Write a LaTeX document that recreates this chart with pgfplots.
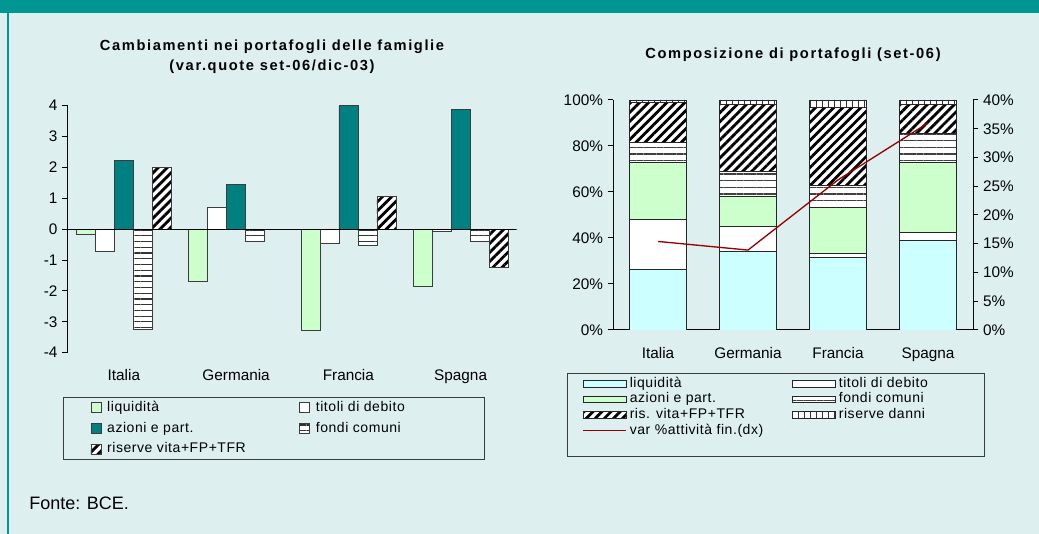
\documentclass[border=0pt]{standalone}
\usepackage{fontspec}
\setmainfont{Liberation Sans}
\newfontfamily\titlefont[LetterSpace=11]{Liberation Sans}
\newfontfamily\legfont[LetterSpace=4]{Liberation Sans}
\usepackage{pgfplots}
\usepackage{pgfplotstable}
\pgfplotsset{compat=1.18}
\usetikzlibrary{patterns.meta}
\definecolor{bandteal}{RGB}{0,150,145}
\definecolor{bgpanel}{RGB}{221,239,239}
\definecolor{lgreen}{RGB}{204,255,204}
\definecolor{lcyan}{RGB}{204,255,255}
\definecolor{dteal}{RGB}{0,128,128}
\definecolor{dred}{RGB}{153,0,0}
\definecolor{edge}{RGB}{60,60,60}

\pgfplotstableread{
x liq tit azi fon ris
0 -0.16 -0.72 2.22 -3.24 1.99
1 -1.68 0.72 1.44 -0.39 0.00
2 -3.28 -0.46 4.00 -0.51 1.05
3 -1.85 -0.06 3.88 -0.39 -1.23
}\leftdata
\pgfplotstableread{
x liq tit azi fon ris dan
0 26.4 21.7 24.8 8.7 17.4 1.0
1 34.1 11.1 12.8 11.0 29.1 1.9
2 31.6 1.7 20.0 9.7 33.8 3.2
3 39.1 3.2 30.6 12.6 12.6 1.9
}\rightdata
\pgfplotstableread{
x var
0 15.4
1 13.9
2 26.1
3 36.0
}\linedata

\tikzset{
  diagpat/.style={postaction={pattern={Lines[angle=45,distance=4.8pt,line width=2.1pt]},pattern color=black}},
  hpatL/.style={postaction={pattern={Lines[angle=0,distance=4.3pt,line width=0.9pt]},pattern color=black!80}},
  hpatR/.style={postaction={pattern={Lines[angle=0,distance=5pt,line width=1.1pt]},pattern color=black!75}},
  vpat/.style={postaction={pattern={Lines[angle=90,distance=4.5pt,line width=0.6pt]},pattern color=black!80}},
}
\pgfplotsset{
  ticklab/.style={tick label style={font=\fontsize{11.5}{13}\selectfont}},
  linelegend/.style={legend image code/.code={\draw[##1] (0pt,0pt) -- (32.25pt,0pt); \path (33.5pt,0pt);}},
  sqlegend/.style={legend image code/.code={\draw[##1] (0pt,-3.75pt) rectangle (7.5pt,3.75pt); \path (10pt,0pt);}},
  widelegend/.style={legend image code/.code={\draw[##1] (0pt,-2.6pt) rectangle (32.25pt,2.6pt); \path (33.5pt,0pt);}},
}

\begin{document}
\begin{tikzpicture}
\fill[bgpanel] (0,0) rectangle (779.25pt,400.5pt);
\fill[bandteal] (0,390.75pt) rectangle (779.25pt,400.5pt);
\fill[bandteal] (5.25pt,0) rectangle (6.75pt,390.75pt);

\node[font=\titlefont\bfseries\fontsize{11}{15}\selectfont, align=center] at (204pt,357.75pt)
  {Cambiamenti nei portafogli delle famiglie\\(var.quote set-06/dic-03)};
\node[font=\titlefont\bfseries\fontsize{11}{15}\selectfont] at (594.75pt,359.25pt)
  {Composizione di portafogli (set-06)};
\node[anchor=west, font=\fontsize{13.5}{16}\selectfont, inner sep=0pt] at (21.75pt,23.25pt) {Fonte: BCE.};

% ---------- left chart ----------
\begin{axis}[
  at={(50.8pt,135.98pt)}, anchor=south west, scale only axis,
  width=336.75pt, height=185.25pt,
  xmin=-0.5, xmax=3.5, ymin=-4, ymax=4,
  axis y line*=left, axis x line*=bottom,
  x axis line style={draw=none},
  xtick={0,1,2,3}, xticklabels={Italia,Germania,Francia,Spagna},
  xtick style={draw=none},
  ytick={-4,-3,-2,-1,0,1,2,3,4}, yticklabels={-4,-3,-2,-1,0,1,2,3,4},
  tick align=outside, major tick length=4.2pt,
  y axis line style={line width=0.75pt, black},
  ytick style={line width=0.75pt, black},
  ticklab,
  xticklabel style={yshift=-4.8pt},
  ybar=0pt, bar width=14.25pt,
  legend columns=2, legend cell align=left,
  legend style={at={(-0.0105,-0.179)}, anchor=north west, draw=edge, fill=none, line width=0.75pt,
     inner xsep=20.25pt, inner ysep=0.5pt, row sep=1.1pt,
     nodes={inner sep=2pt, text height=8pt, text depth=2.5pt},
     font=\legfont\fontsize{10.5}{12}\selectfont},
  sqlegend,
]
\addplot[fill=lgreen, draw=edge, line width=0.5pt] table[x=x,y=liq]{\leftdata};
\addlegendentry{\makebox[142pt][l]{liquidità}}
\addplot[fill=white, draw=edge, line width=0.5pt] table[x=x,y=tit]{\leftdata};
\addlegendentry{\makebox[104.5pt][l]{titoli di debito}}
\addplot[fill=dteal, draw=edge, line width=0.5pt] table[x=x,y=azi]{\leftdata};
\addlegendentry{azioni e part.}
\addplot[fill=white, draw=edge, line width=0.5pt, hpatL] table[x=x,y=fon]{\leftdata};
\addlegendentry{fondi comuni}
\addplot[fill=white, draw=edge, line width=0.5pt, diagpat] table[x=x,y=ris]{\leftdata};
\addlegendentry{riserve vita+FP+TFR}
\draw[black, line width=0.75pt] (axis cs:-0.5,0) -- (axis cs:3.5,0);
\end{axis}

% ---------- right chart ----------
\begin{axis}[
  at={(459.75pt,153pt)}, anchor=south west, scale only axis,
  width=270pt, height=172.5pt,
  xmin=-0.5, xmax=3.5, ymin=0, ymax=100,
  axis y line*=left, axis x line*=bottom,
  xtick={0,1,2,3}, xticklabels={Italia,Germania,Francia,Spagna},
  xtick style={draw=none},
  ytick={0,20,40,60,80,100}, yticklabels={0\%,20\%,40\%,60\%,80\%,100\%},
  tick align=outside, major tick length=4pt,
  axis line style={line width=0.75pt, black},
  ytick style={line width=0.75pt, black},
  ticklab,
  xticklabel style={yshift=-5.8pt},
  ybar stacked, bar width=42.75pt,
  legend columns=2, legend cell align=left,
  legend style={at={(-0.128,-0.187)}, anchor=north west, draw=edge, fill=none, line width=0.75pt,
     inner xsep=11.25pt, inner ysep=1.85pt, row sep=0pt,
     nodes={inner sep=1pt, text height=7.5pt, text depth=2.2pt},
     font=\legfont\fontsize{10.5}{12}\selectfont},
  widelegend,
]
\addplot[fill=lcyan, draw=black!85, line width=0.55pt] table[x=x,y=liq]{\rightdata};
\addlegendentry{\makebox[120.75pt][l]{liquidità}}
\addplot[fill=white, draw=black!85, line width=0.55pt] table[x=x,y=tit]{\rightdata};
\addlegendentry{\makebox[96.75pt][l]{titoli di debito}}
\addplot[fill=lgreen, draw=black!85, line width=0.55pt] table[x=x,y=azi]{\rightdata};
\addlegendentry{azioni e part.}
\addplot[fill=white, draw=black!85, line width=0.55pt, hpatR] table[x=x,y=fon]{\rightdata};
\addlegendentry{fondi comuni}
\addplot[fill=white, draw=black!85, line width=0.55pt, diagpat] table[x=x,y=ris]{\rightdata};
\addlegendentry{ris. vita+FP+TFR}
\addplot[fill=white, draw=black!85, line width=0.55pt, vpat] table[x=x,y=dan]{\rightdata};
\addlegendentry{riserve danni}
\addlegendimage{linelegend, draw=dred, line width=1pt}
\addlegendentry{var \%attività fin.(dx)}
\addlegendimage{empty legend}\addlegendentry{}
\addlegendimage{empty legend}\addlegendentry{}
\end{axis}

\begin{axis}[
  at={(459.75pt,153pt)}, anchor=south west, scale only axis,
  width=270pt, height=172.5pt,
  xmin=-0.5, xmax=3.5, ymin=0, ymax=40,
  axis y line*=right, axis x line=none,
  ytick={0,5,10,15,20,25,30,35,40},
  yticklabels={0\%,5\%,10\%,15\%,20\%,25\%,30\%,35\%,40\%},
  tick align=outside, major tick length=4pt,
  axis line style={line width=0.75pt, black},
  ytick style={line width=0.75pt, black},
  ticklab,
]
\addplot[dred, line width=1pt, mark=none] table[x=x,y=var]{\linedata};
\end{axis}

\pgfresetboundingbox
\path[use as bounding box] (0,0) rectangle (779.25pt,400.5pt);
\end{tikzpicture}
\end{document}
